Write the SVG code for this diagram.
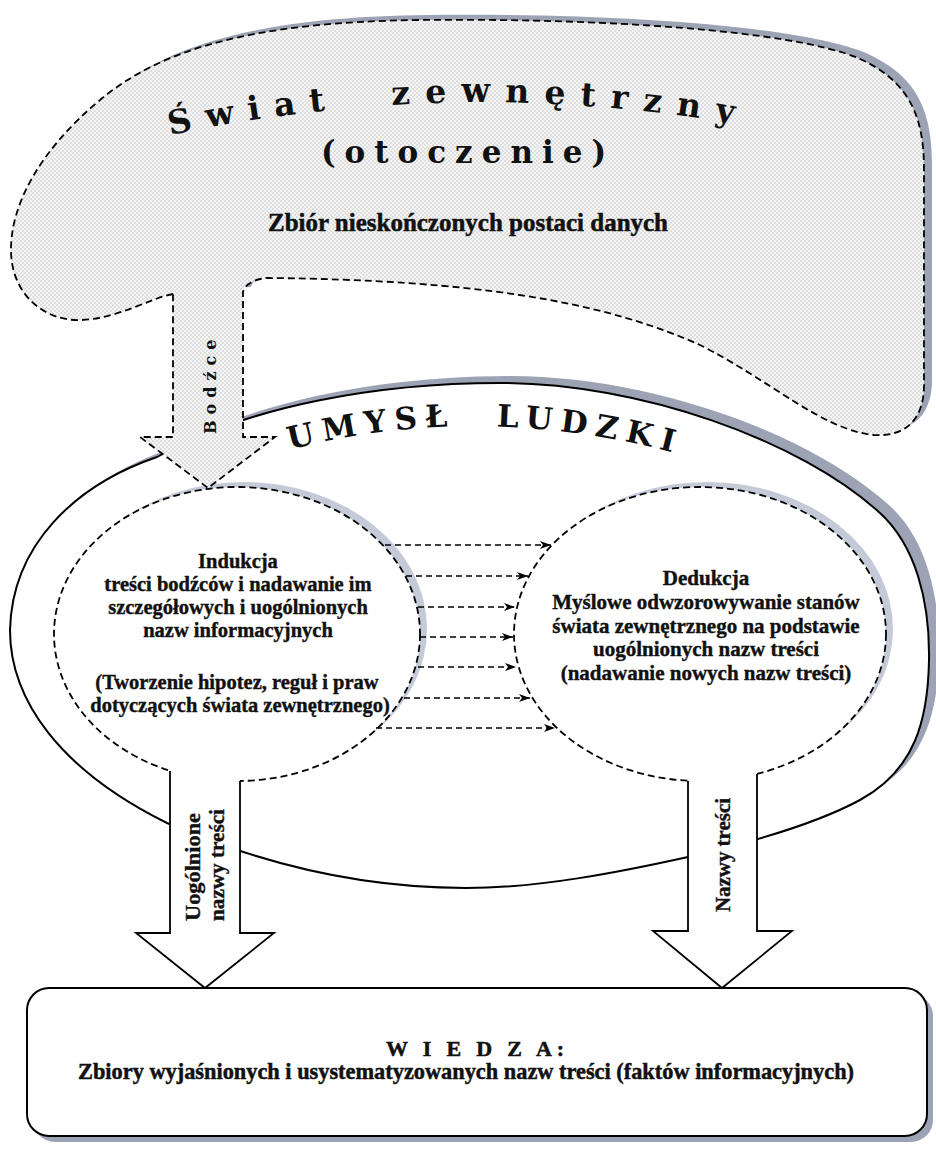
<svg xmlns="http://www.w3.org/2000/svg" width="936" height="1150" viewBox="0 0 936 1150">
  <defs>
    <pattern id="dots" width="4" height="4" patternUnits="userSpaceOnUse">
      <rect width="4" height="4" fill="#f5f5f5"/>
      <circle cx="1" cy="1" r="0.75" fill="#c0c0c0"/>
      <circle cx="3" cy="3" r="0.75" fill="#c0c0c0"/>
    </pattern>
    <marker id="head" viewBox="0 0 11 8" refX="11" refY="4" markerWidth="11" markerHeight="8" markerUnits="userSpaceOnUse" orient="auto">
      <path d="M0,0 L11,4 L0,8 L3,4 Z" fill="#000"/>
    </marker>
    <path id="arcWorld" d="M 130,144 Q 460,66 790,134"/>
    <path id="arcMind" d="M 270,455 Q 480,395 700,460"/>
    <path id="mindShape" d="M 500,383 C 640,383 800,440 880,513 C 915,545 930,600 929,660 C 928,720 915,770 860,800 C 810,827 740,845 688,857 C 620,872 540,888 466,888 C 370,888 270,868 167,823 C 60,770 10,700 10,630 C 12,545 75,485 157,457 C 250,405 380,383 500,383 Z"/>
    <path id="worldShape" d="M 173,294 C 150,298 120,318 82,320 C 45,322 12,295 11,252 C 10,205 40,150 100,100 C 160,50 250,22 420,20 C 600,18 790,30 858,58 C 912,82 924,120 924,170 L 924,385 C 924,420 905,437 874,435 C 822,430 770,380 700,345 C 600,300 470,280 267,278 C 255,279 245,284 243,292 Z"/>
  </defs>
  <style>
    .dash { fill: none; stroke: #000; stroke-width: 1.8; stroke-dasharray: 7 4; }
    .solid { fill: none; stroke: #000; stroke-width: 1.8; }
    .shadow { fill: #9ba3b5; }
    .shadow-soft { fill: #c4cad7; }
    .deco { font-family: "DejaVu Serif", "Liberation Serif", serif; font-weight: bold; fill: #111; }
    .body { font-family: "Liberation Serif", "Times New Roman", serif; font-weight: bold; fill: #111; stroke: #111; stroke-width: 0.4; text-anchor: middle; }
    .cond { font-family: "Liberation Serif", "Times New Roman", serif; font-weight: bold; fill: #111; stroke: #111; stroke-width: 0.5; }
    .rot { font-family: "Liberation Serif", "Times New Roman", serif; font-weight: bold; fill: #111; stroke: #111; stroke-width: 0.4; }
  </style>

  <rect width="936" height="1150" fill="#fff"/>

  <!-- Umysł ludzki: large outer oval -->
  <g id="umysl">
    <use href="#mindShape" class="shadow" transform="translate(10,-7)"/>
    <use href="#mindShape" fill="#fff" stroke="#000" stroke-width="2"/>
    <text class="deco" font-size="31" letter-spacing="8" word-spacing="22"><textPath href="#arcMind" startOffset="50%" text-anchor="middle">UMYSŁ LUDZKI</textPath></text>
  </g>

  <!-- Indukcja -->
  <g id="indukcja">
    <ellipse class="shadow-soft" cx="244" cy="629" rx="183" ry="147"/>
    <ellipse cx="237" cy="634" rx="183" ry="147" fill="#fff"/>
    <ellipse class="dash" cx="237" cy="634" rx="183" ry="147"/>
    <g class="body" font-size="20.5">
      <text x="238" y="568">Indukcja</text>
      <text x="238" y="591">treści bodźców i nadawanie im</text>
      <text x="238" y="614">szczegółowych i uogólnionych</text>
      <text x="238" y="637">nazw informacyjnych</text>
      <text x="237" y="689">(Tworzenie hipotez, reguł i praw</text>
      <text x="240" y="712">dotyczących świata zewnętrznego)</text>
    </g>
  </g>

  <!-- Dedukcja -->
  <g id="dedukcja">
    <ellipse class="shadow-soft" cx="707" cy="629" rx="186" ry="147"/>
    <ellipse cx="700" cy="634" rx="186" ry="147" fill="#fff"/>
    <ellipse class="dash" cx="700" cy="634" rx="186" ry="147"/>
    <g class="body" font-size="21">
      <text x="706" y="585">Dedukcja</text>
      <text x="706" y="609">Myślowe odwzorowywanie stanów</text>
      <text x="706" y="633">świata zewnętrznego na podstawie</text>
      <text x="706" y="656">uogólnionych nazw treści</text>
      <text x="706" y="680">(nadawanie nowych nazw treści)</text>
    </g>
  </g>

  <!-- Świat zewnętrzny with the Bodźce arrow leaving it -->
  <g id="swiat">
    <use href="#worldShape" class="shadow" transform="translate(8,-5)"/>
    <path d="M 173,294 C 150,298 120,318 82,320 C 45,322 12,295 11,252 C 10,205 40,150 100,100 C 160,50 250,22 420,20 C 600,18 790,30 858,58 C 912,82 924,120 924,170 L 924,385 C 924,420 905,437 874,435 C 822,430 770,380 700,345 C 600,300 470,280 267,278 C 255,279 245,284 243,292 L 243,437 L 275,437 L 208,488 L 140,437 L 173,437 Z" fill="url(#dots)" stroke="#000" stroke-width="1.8" stroke-dasharray="7 4"/>
    <text class="deco" font-size="33" letter-spacing="14"><textPath href="#arcWorld" startOffset="41">Świat</textPath></text>
    <text class="deco" font-size="33" letter-spacing="15"><textPath href="#arcWorld" startOffset="265">zewnętrzny</textPath></text>
    <text class="deco" font-size="31" x="468" y="163" letter-spacing="9" text-anchor="middle">(otoczenie)</text>
    <text class="cond" font-size="25" x="268" y="231" textLength="400" lengthAdjust="spacingAndGlyphs">Zbiór nieskończonych postaci danych</text>
    <text class="deco" font-size="16" letter-spacing="6" transform="translate(216,434) rotate(-90)">Bodźce</text>
  </g>

  <!-- Induction to deduction transfers -->
  <g id="connectors" fill="none" stroke="#000" stroke-width="1.5" stroke-dasharray="6 4">
    <line x1="385" y1="545" x2="551" y2="545" marker-end="url(#head)"/>
    <line x1="406" y1="576" x2="528" y2="576" marker-end="url(#head)"/>
    <line x1="418" y1="607" x2="515" y2="607" marker-end="url(#head)"/>
    <line x1="420" y1="637" x2="513" y2="637" marker-end="url(#head)"/>
    <line x1="418" y1="667" x2="516" y2="667" marker-end="url(#head)"/>
    <line x1="404" y1="698" x2="530" y2="698" marker-end="url(#head)"/>
    <line x1="376" y1="728" x2="555" y2="728" marker-end="url(#head)"/>
  </g>

  <!-- Uogólnione nazwy treści arrow -->
  <g id="arrow-uogolnione">
    <path d="M170,760 L170,933 L136,933 L205,988 L274,933 L240,933 L240,760 Z" fill="#fff"/>
    <path class="solid" d="M170,771 L170,933 L136,933 L205,988 L274,933 L240,933 L240,781"/>
    <text class="rot" font-size="21" textLength="108" lengthAdjust="spacingAndGlyphs" transform="translate(200,921) rotate(-90)">Uogólnione</text>
    <text class="rot" font-size="21" textLength="112" lengthAdjust="spacingAndGlyphs" transform="translate(224,921) rotate(-90)">nazwy treści</text>
  </g>

  <!-- Nazwy treści arrow -->
  <g id="arrow-nazwy">
    <path d="M688,760 L688,931 L653,931 L722,988 L792,931 L757,931 L757,760 Z" fill="#fff"/>
    <path class="solid" d="M688,781 L688,931 L653,931 L722,988 L792,931 L757,931 L757,774"/>
    <text class="rot" font-size="21" textLength="114" lengthAdjust="spacingAndGlyphs" transform="translate(730,912) rotate(-90)">Nazwy treści</text>
  </g>

  <!-- Wiedza -->
  <g id="wiedza">
    <rect class="shadow" x="33" y="994" width="900" height="148" rx="22"/>
    <rect x="27" y="988" width="900" height="148" rx="22" fill="#fff" stroke="#000" stroke-width="2"/>
    <text class="cond" font-size="22" x="386" y="1056" textLength="178" lengthAdjust="spacing">W I E D Z A:</text>
    <text class="cond" font-size="23" x="78" y="1079" textLength="776" lengthAdjust="spacingAndGlyphs">Zbiory wyjaśnionych i usystematyzowanych nazw treści (faktów informacyjnych)</text>
  </g>
</svg>
